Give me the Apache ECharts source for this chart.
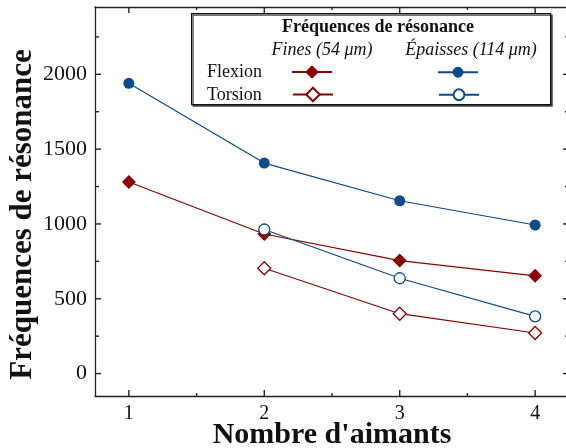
<!DOCTYPE html>
<html lang="fr">
<head>
    <meta charset="UTF-8">
    <title>Fréquences de résonance</title>
    <script src="https://cdn.jsdelivr.net/npm/echarts@6/dist/echarts.min.js"></script>
    <style>
        html, body, #chart {
            width: 566px;
            height: 448px;
            padding: 0;
            margin: 0;
            background: #fff;
        }
    </style>
</head>
<body>
<div id="chart"></div>
<script>
    // nombre d'aimants
    var nombres = [1, 2, 3, 4];
    var flexionFines = [1280, 933, 755, 653];
    var flexionEpaisses = [1940, 1407, 1155, 993];
    var torsionFines = [null, 704, 400, 271];
    var torsionEpaisses = [null, 963, 637, 382];

    var yLabels = [0, 500, 1000, 1500, 2000];
    var yMinor = [250, 750, 1250, 1750, 2250];
    var xLabels = [1, 2, 3, 4];
    var xMinor = [1.5, 2.5, 3.5];

    var X_MIN = 0.75, X_MAX = 4.25;
    var Y_MIN = -150, Y_MAX = 2450;

    var ROUGE = "#8b0000";
    var BLEU = "#0b4a8b";
    var SERIF = "Liberation Serif";
    var NOIR = "#222";

    function pairs(vals) {
        var out = [];
        for (var i = 0; i < nombres.length; i++) {
            if (vals[i] != null) out.push([nombres[i], vals[i]]);
        }
        return out;
    }

    // graduations: [valeur, 0 = axe x / 1 = axe y, longueur]
    var graduations = [];
    xLabels.forEach(function (v) { graduations.push([v, 0, 6]); });
    xMinor.forEach(function (v) { graduations.push([v, 0, 3]); });
    yLabels.forEach(function (v) { graduations.push([v, 1, 6]); });
    yMinor.forEach(function (v) { graduations.push([v, 1, 4]); });

    function trait(x1, y1, x2, y2) {
        return {type: "line", shape: {x1: x1, y1: y1, x2: x2, y2: y2},
            style: {stroke: NOIR, lineWidth: 1.4}};
    }

    function renduGraduation(params, api) {
        var v = api.value(0), len = api.value(2);
        var a, b;
        if (api.value(1) === 0) {
            a = api.coord([v, Y_MIN]);
            b = api.coord([v, Y_MAX]);
            return {type: "group", children: [
                trait(a[0], a[1], a[0], a[1] - len),
                trait(b[0], b[1], b[0], b[1] + len)
            ]};
        }
        a = api.coord([X_MIN, v]);
        b = api.coord([X_MAX, v]);
        return {type: "group", children: [
            trait(a[0], a[1], a[0] + len, a[1]),
            trait(b[0], b[1], b[0] - len, b[1])
        ]};
    }

    // frame axis: line only, labels when given in extra
    function axe(dim, pos, extra) {
        var a = {
            type: "value",
            position: pos,
            min: dim === "x" ? X_MIN : Y_MIN,
            max: dim === "x" ? X_MAX : Y_MAX,
            axisLine: {show: true, onZero: false, lineStyle: {color: NOIR, width: 1.3}},
            axisTick: {show: false},
            axisLabel: {show: false},
            splitLine: {show: false}
        };
        for (var k in extra) a[k] = extra[k];
        return a;
    }

    function serie(name, vals, color, symbol, size, hollow) {
        return {
            name: name,
            type: "line",
            data: pairs(vals),
            symbol: symbol,
            symbolSize: size,
            showSymbol: true,
            lineStyle: {color: color, width: 1.2},
            itemStyle: hollow ? {color: "#fff", borderColor: color, borderWidth: 1.3}
                              : {color: color, borderWidth: 0},
            emphasis: {disabled: true},
            z: 3
        };
    }

    function legende(name, left, top, h) {
        return {
            data: [name],
            left: left,
            top: top,
            padding: 0,
            itemWidth: 40,
            itemHeight: h,
            selectedMode: false,
            formatter: function () { return ""; },
            textStyle: {fontSize: 1},
            z: 20
        };
    }

    var chart = echarts.init(document.getElementById("chart"), null, {renderer: "canvas"});

    chart.setOption({
        animation: false,
        grid: {left: 95, right: -3, top: 7, bottom: 52, show: false,
            containLabel: false, outerBoundsMode: "none"},
        xAxis: [
            axe("x", "bottom", {
                axisLabel: {show: true, customValues: xLabels.slice(), margin: 8,
                    color: "#111", fontFamily: SERIF, fontSize: 20},
                name: "Nombre d'aimants",
                nameLocation: "middle",
                nameGap: 24,
                nameMoveOverlap: false,
                nameTextStyle: {fontFamily: SERIF, fontWeight: "bold", fontSize: 30, color: "#111"}
            }),
            axe("x", "top", {})
        ],
        yAxis: [
            axe("y", "left", {
                axisLabel: {show: true, customValues: yLabels.slice(), margin: 8,
                    formatter: function (v) { return String(v); },
                    color: "#111", fontFamily: SERIF, fontSize: 22},
                name: "Fréquences de résonance",
                nameLocation: "middle",
                nameGap: 57,
                nameMoveOverlap: false,
                nameTextStyle: {fontFamily: SERIF, fontWeight: "bold", fontSize: 31, color: "#111",
                    padding: [0, 26, 0, 0]}
            }),
            axe("y", "right", {})
        ],
        legend: [
            legende("Flexion fines", 291, 63.5, 17),
            legende("Flexion épaisses", 437, 65.5, 13.5),
            legende("Torsion fines", 292, 86, 17),
            legende("Torsion épaisses", 438, 88, 13.5)
        ],
        graphic: [
            {
                type: "rect", left: 191, top: 13, z: 10,
                shape: {width: 359, height: 91},
                style: {fill: "#fff", stroke: "#111", lineWidth: 1.2,
                    shadowColor: "#444", shadowOffsetX: 1.5, shadowOffsetY: 1.5, shadowBlur: 0}
            },
            {
                type: "text", x: 378, y: 27, z: 11,
                style: {text: "Fréquences de résonance", fontFamily: SERIF, fontWeight: "bold",
                    fontSize: 18, fill: "#111", align: "center", verticalAlign: "middle"}
            },
            {
                type: "text", x: 322, y: 50, z: 11,
                style: {text: "Fines (54 μm)", fontFamily: SERIF, fontStyle: "italic",
                    fontSize: 18, fill: "#111", align: "center", verticalAlign: "middle"}
            },
            {
                type: "text", x: 471, y: 50, z: 11,
                style: {text: "Épaisses (114 μm)", fontFamily: SERIF, fontStyle: "italic",
                    fontSize: 18, fill: "#111", align: "center", verticalAlign: "middle"}
            },
            {
                type: "text", x: 207, y: 72, z: 11,
                style: {text: "Flexion", fontFamily: SERIF, fontSize: 18, fill: "#111",
                    align: "left", verticalAlign: "middle"}
            },
            {
                type: "text", x: 207, y: 95, z: 11,
                style: {text: "Torsion", fontFamily: SERIF, fontSize: 18, fill: "#111",
                    align: "left", verticalAlign: "middle"}
            }
        ],
        series: [
            {
                name: "graduations",
                type: "custom",
                data: graduations,
                renderItem: renduGraduation,
                clip: false,
                silent: true,
                z: 50
            },
            serie("Flexion fines", flexionFines, ROUGE, "diamond", 14, false),
            serie("Torsion fines", torsionFines, ROUGE, "diamond", 13, true),
            serie("Flexion épaisses", flexionEpaisses, BLEU, "circle", 11, false),
            serie("Torsion épaisses", torsionEpaisses, BLEU, "circle", 11, true)
        ]
    });
</script>
</body>
</html>
